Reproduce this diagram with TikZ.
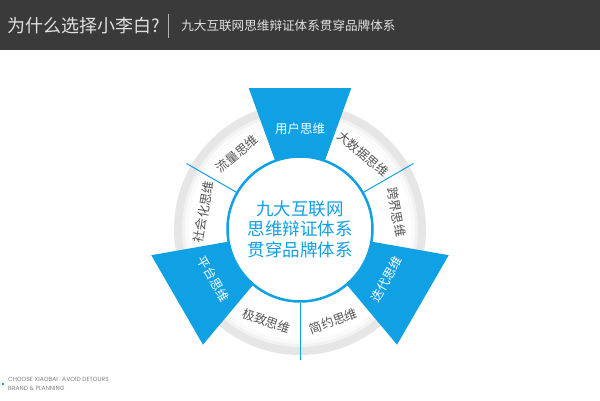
\documentclass[tikz,border=0pt]{standalone}
\usepackage{fontspec}
\setmainfont{Noto Sans CJK SC}
\newfontfamily\footfont{Poppins}
\usetikzlibrary{positioning}

\definecolor{xlbblue}{RGB}{16,160,228}
\definecolor{xlbhead}{RGB}{58,58,58}
\definecolor{xlbring}{RGB}{230,230,230}
\definecolor{xlbtext}{RGB}{85,85,85}

\begin{document}
\begin{tikzpicture}[x=1pt, y=1pt,
    segment/.style={fill=xlbblue, draw=none},
    divider/.style={draw=xlbblue, line width=1pt},
    seglabel/.style={text=xlbtext, font=\fontsize{12.5}{14}\selectfont, inner sep=0pt},
    hilabel/.style={seglabel, text=white},
    core/.style={circle, draw=xlbblue, line width=2.5pt, fill=white, minimum size=145pt, inner sep=0pt,
        text=xlbblue, align=center, font=\fontsize{17.5}{20.5}\selectfont},
    foot/.style={anchor=west, inner sep=0pt, text=black!50, font=\footfont\fontsize{6}{7}\selectfont}]

    \useasboundingbox (0,0) rectangle (600,400);

    % header bar
    \fill[xlbhead] (0,350) rectangle (600,400);
    \node[anchor=west, inner sep=0pt, text=black!12, font=\fontsize{18}{20}\selectfont] (title) at (7,374) {为什么选择小李白?};
    \node[right=8pt of title, fill=black!30, minimum width=0.8pt, minimum height=24pt, inner sep=0pt] (bar) {};
    \node[right=12pt of bar, inner sep=0pt, text=black!12, font=\fontsize{12.6}{14}\selectfont] (subtitle) {九大互联网思维辩证体系贯穿品牌体系};

    \begin{scope}[shift={(300,171)}]
        % rings
        \fill[xlbring] (0,0) circle (126);
        \fill[black!5] (0,0) circle (118);
        \fill[black!2] (0,0) circle (115);
        \fill[white] (0,0) circle (111);

        % highlighted segments
        \fill[segment] (70:150) -- (110:150) -- (110:72) arc[start angle=110, end angle=70, radius=72] -- cycle;
        \fill[segment] (-50:151) -- (-10:151) -- (-10:72) arc[start angle=-10, end angle=-50, radius=72] -- cycle;
        \fill[segment] (-170:151) -- (-130:151) -- (-130:72) arc[start angle=-130, end angle=-170, radius=72] -- cycle;

        \coordinate (d1) at (30:131);
        \coordinate (d2) at (150:131);
        \coordinate (d3) at (-90:131);

        \node[core] (core) at (0,0) {九大互联网\\思维辩证体系\\贯穿品牌体系};

        \draw[divider] (core) -- (d1);
        \draw[divider] (core) -- (d2);
        \draw[divider] (core) -- (d3);

        \node[hilabel] (yonghu) at (90:100) {用户思维};
        \node[seglabel, rotate=-40] (dashuju) at (50:98) {大数据思维};
        \node[seglabel, rotate=-80] (kuajie) at (10:98) {跨界思维};
        \node[hilabel, rotate=60] (diedai) at (-30:100) {迭代思维};
        \node[seglabel, rotate=20] (jianyue) at (-70:98) {简约思维};
        \node[seglabel, rotate=-20] (jizhi) at (-110:98) {极致思维};
        \node[hilabel, rotate=-60] (pingtai) at (-150:100) {平台思维};
        \node[seglabel, rotate=80] (shehui) at (170:98) {社会化思维};
        \node[seglabel, rotate=40] (liuliang) at (130:98) {流量思维};
    \end{scope}

    % footer
    \fill[xlbblue] (2,15) rectangle (4,17);
    \node[foot] (slogan) at (8,21) {CHOOSE XIAOBAI . AVOID DETOURS};
    \node[foot] (brand) at (8,12) {BRAND \& PLANNING};
\end{tikzpicture}
\end{document}
